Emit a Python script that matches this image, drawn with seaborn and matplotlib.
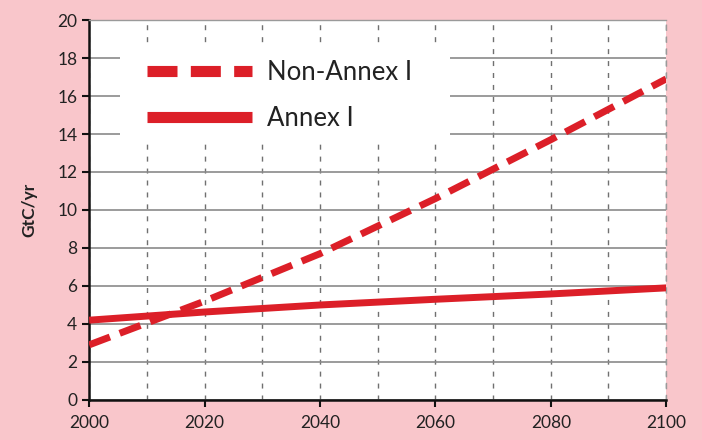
import matplotlib
matplotlib.use("Agg")
import matplotlib.pyplot as plt
from matplotlib.lines import Line2D
from matplotlib.patches import Rectangle
from matplotlib.ticker import MultipleLocator
import pandas as pd
import seaborn as sns

years = [2000, 2020, 2040, 2060, 2080, 2100]
non_annex1 = [2.9, 5.2, 7.7, 10.6, 13.7, 16.9]
annex1 = [4.2, 4.63, 5.0, 5.3, 5.58, 5.9]
series_names = ["Non-Annex I", "Annex I"]

red = "#dc1f28"
pink = "#f9c6cb"

sns.set_style("white")
plt.rcParams["font.family"] = ["Lato", "DejaVu Sans"]
plt.rcParams["lines.solid_capstyle"] = "butt"
plt.rcParams["lines.dash_capstyle"] = "butt"

df = pd.DataFrame({"year": years, "Non-Annex I": non_annex1, "Annex I": annex1})

fig = plt.figure(figsize=(7.02, 4.40), dpi=100, facecolor=pink)
ax = fig.add_axes([0.127, 0.091, 0.822, 0.8635])
ax.set_facecolor("white")

sns.lineplot(data=df, x="year", y="Non-Annex I", ax=ax, color=red, linewidth=5, zorder=4)
ax.lines[-1].set_dashes([3.2, 1.5])
sns.lineplot(data=df, x="year", y="Annex I", ax=ax, color=red, linewidth=5, zorder=4)

ax.set_xlim(2000, 2100)
ax.set_ylim(0, 20)
ax.xaxis.set_major_locator(MultipleLocator(20))
ax.xaxis.set_minor_locator(MultipleLocator(10))
ax.yaxis.set_major_locator(MultipleLocator(2))

ax.grid(axis="y", which="major", color="#8a8a8a", linewidth=1.2)
ax.grid(axis="x", which="both", color="#707070", linewidth=1.0,
        linestyle=(0, (3.6, 5.0)))
ax.set_axisbelow(True)

for side in ["left", "bottom"]:
    ax.spines[side].set_color("#111111")
    ax.spines[side].set_linewidth(1.8)
for side in ["top", "right"]:
    ax.spines[side].set_color("#9a9a9a")
    ax.spines[side].set_linewidth(1.0)
ax.spines["right"].set_linestyle((0, (3.6, 5.0)))

ax.tick_params(axis="both", which="major", direction="out", length=5, width=1.5,
               color="#111111", labelsize=12.5, labelcolor="#222222")
ax.tick_params(axis="x", which="major", pad=6)
ax.tick_params(axis="x", which="minor", length=0)
ax.tick_params(left=True, bottom=True)

ax.set_xlabel("")
ax.set_ylabel("GtC/yr", fontsize=12.5, fontweight="bold", labelpad=14, color="#222222")

# white box behind the legend that hides the grid
ax.add_patch(Rectangle((0.054, 0.684), 0.572, 0.245, transform=ax.transAxes,
                       facecolor="white", edgecolor="none", zorder=1))

handles = [
    Line2D([], [], color=red, linewidth=8, dashes=[2.7, 1.2]),
    Line2D([], [], color=red, linewidth=8),
]
leg = ax.legend(handles, series_names, loc="upper left", bbox_to_anchor=(0.1005, 0.894),
                fontsize=18.5, handlelength=4.1, handletextpad=0.55, labelspacing=0.8,
                frameon=False, borderpad=0, borderaxespad=0)
for t in leg.get_texts():
    t.set_color("#222222")

fig.savefig("out.png", dpi=100, facecolor=pink)
